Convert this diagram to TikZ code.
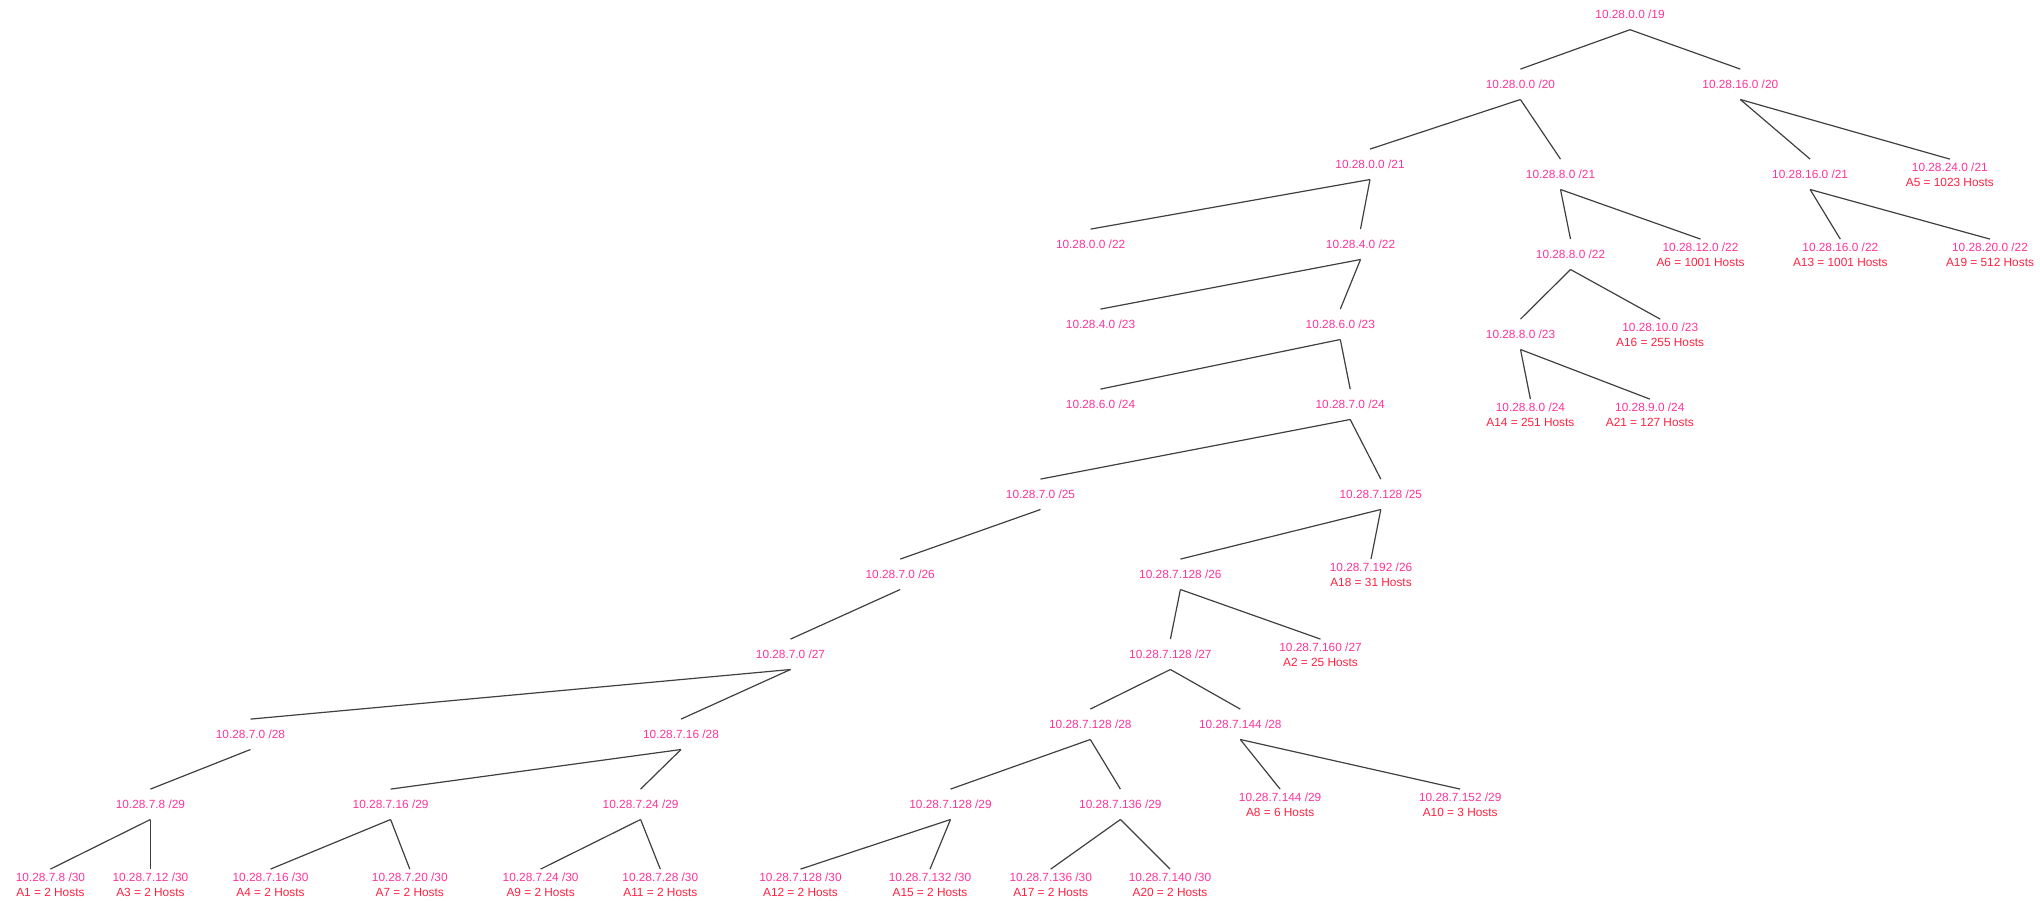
\documentclass[tikz,border=0pt]{standalone}
\usepackage{fontspec}
\setmainfont{Liberation Sans}
\definecolor{addr}{HTML}{FF3399}
\definecolor{host}{HTML}{FF2040}
\definecolor{edge}{HTML}{404040}
\begin{document}
\begin{tikzpicture}[x=1pt,y=-1pt,
  nd/.style={inner sep=0pt,minimum height=30pt,align=center,text=addr,
    font=\fontsize{11.85}{15}\selectfont},
  ln/.style={draw=edge,line width=1.2pt}]
\useasboundingbox (0,0) rectangle (2040,900);
\newcommand{\hh}[1]{\\\textcolor{host}{#1}}
% level /19 - /21
\node[nd] (r)   at (1630,14.5)   {10.28.0.0 /19};
\node[nd] (a20) at (1520.4,84.3) {10.28.0.0 /20};
\node[nd] (b20) at (1740.3,84.3) {10.28.16.0 /20};
\node[nd] (a21) at (1370,164.3)  {10.28.0.0 /21};
\node[nd] (b21) at (1560.5,174.3){10.28.8.0 /21};
\node[nd] (c21) at (1810.1,174.3){10.28.16.0 /21};
\node[nd] (d21) at (1949.8,174.3){10.28.24.0 /21\hh{A5 = 1023 Hosts}};
% /22
\node[nd] (a22) at (1090.6,244.3){10.28.0.0 /22};
\node[nd] (b22) at (1360.5,244.3){10.28.4.0 /22};
\node[nd] (c22) at (1570.5,254.3){10.28.8.0 /22};
\node[nd] (d22) at (1700.5,254.3){10.28.12.0 /22\hh{A6 = 1001 Hosts}};
\node[nd] (e22) at (1840.3,254.3){10.28.16.0 /22\hh{A13 = 1001 Hosts}};
\node[nd] (f22) at (1990,254.3)  {10.28.20.0 /22\hh{A19 = 512 Hosts}};
% /23
\node[nd] (a23) at (1100.5,324.3){10.28.4.0 /23};
\node[nd] (b23) at (1340.3,324.3){10.28.6.0 /23};
\node[nd] (c23) at (1520.5,334.3){10.28.8.0 /23};
\node[nd] (d23) at (1660.2,334.3){10.28.10.0 /23\hh{A16 = 255 Hosts}};
% /24
\node[nd] (a24) at (1100.5,404.3){10.28.6.0 /24};
\node[nd] (b24) at (1350.2,404.3){10.28.7.0 /24};
\node[nd] (c24) at (1530.4,414.3){10.28.8.0 /24\hh{A14 = 251 Hosts}};
\node[nd] (d24) at (1649.8,414.3){10.28.9.0 /24\hh{A21 = 127 Hosts}};
% /25
\node[nd] (a25) at (1040.5,494.3){10.28.7.0 /25};
\node[nd] (b25) at (1380.8,494.3){10.28.7.128 /25};
% /26
\node[nd] (a26) at (900.2,574.3) {10.28.7.0 /26};
\node[nd] (b26) at (1180.4,574.3){10.28.7.128 /26};
\node[nd] (c26) at (1371,574.3)  {10.28.7.192 /26\hh{A18 = 31 Hosts}};
% /27
\node[nd] (a27) at (790.5,654.3) {10.28.7.0 /27};
\node[nd] (b27) at (1170.4,654.3){10.28.7.128 /27};
\node[nd] (c27) at (1320.5,654.3){10.28.7.160 /27\hh{A2 = 25 Hosts}};
% /28
\node[nd] (a28) at (250.5,734.3) {10.28.7.0 /28};
\node[nd] (b28) at (681,734.3)   {10.28.7.16 /28};
\node[nd] (c28) at (1090.3,724.3){10.28.7.128 /28};
\node[nd] (d28) at (1240.3,724.3){10.28.7.144 /28};
% /29
\node[nd] (a29) at (150.4,804.3) {10.28.7.8 /29};
\node[nd] (b29) at (390.6,804.3) {10.28.7.16 /29};
\node[nd] (c29) at (640.6,804.3) {10.28.7.24 /29};
\node[nd] (d29) at (950.5,804.3) {10.28.7.128 /29};
\node[nd] (e29) at (1120.4,804.3){10.28.7.136 /29};
\node[nd] (f29) at (1280.1,804.3){10.28.7.144 /29\hh{A8 = 6 Hosts}};
\node[nd] (g29) at (1460.2,804.3){10.28.7.152 /29\hh{A10 = 3 Hosts}};
% /30
\node[nd] (p1)  at (50.4,884.3)  {10.28.7.8 /30\hh{A1 = 2 Hosts}};
\node[nd] (p2)  at (150.4,884.3) {10.28.7.12 /30\hh{A3 = 2 Hosts}};
\node[nd] (p3)  at (270.5,884.3) {10.28.7.16 /30\hh{A4 = 2 Hosts}};
\node[nd] (p4)  at (409.8,884.3) {10.28.7.20 /30\hh{A7 = 2 Hosts}};
\node[nd] (p5)  at (540.6,884.3) {10.28.7.24 /30\hh{A9 = 2 Hosts}};
\node[nd] (p6)  at (660.3,884.3) {10.28.7.28 /30\hh{A11 = 2 Hosts}};
\node[nd] (p7)  at (800.5,884.3) {10.28.7.128 /30\hh{A12 = 2 Hosts}};
\node[nd] (p8)  at (930,884.3)   {10.28.7.132 /30\hh{A15 = 2 Hosts}};
\node[nd] (p9)  at (1050.7,884.3){10.28.7.136 /30\hh{A17 = 2 Hosts}};
\node[nd] (p10) at (1170,884.3)  {10.28.7.140 /30\hh{A20 = 2 Hosts}};
% edges
\foreach \p/\c in {r/a20,r/b20,a20/a21,a20/b21,b20/c21,b20/d21,
  a21/a22,a21/b22,b21/c22,b21/d22,c21/e22,c21/f22,
  b22/a23,b22/b23,c22/c23,c22/d23,
  b23/a24,b23/b24,c23/c24,c23/d24,
  b24/a25,b24/b25,a25/a26,b25/b26,b25/c26,
  a26/a27,b26/b27,b26/c27,
  a27/a28,a27/b28,b27/c28,b27/d28,
  a28/a29,b28/b29,b28/c29,c28/d29,c28/e29,d28/f29,d28/g29,
  a29/p1,a29/p2,b29/p3,b29/p4,c29/p5,c29/p6,d29/p7,d29/p8,e29/p9,e29/p10}
  \draw[ln] (\p.south) -- (\c.north);
\end{tikzpicture}
\end{document}
